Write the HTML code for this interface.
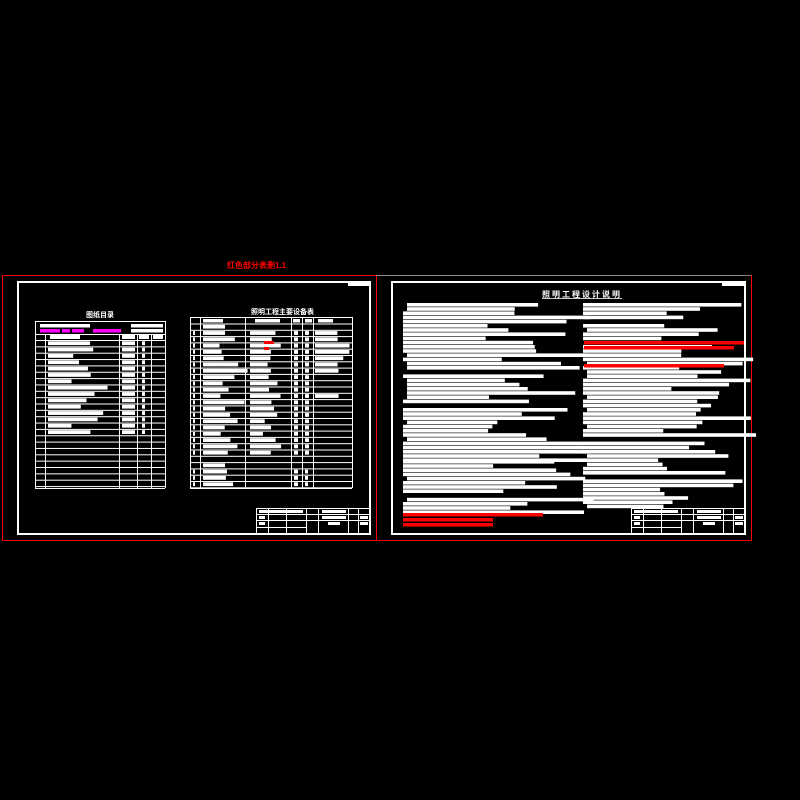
<!DOCTYPE html>
<html><head><meta charset="utf-8"><style>
html,body{margin:0;padding:0;background:#000;width:800px;height:800px;overflow:hidden}
svg{display:block}
text{font-family:"Liberation Sans","Noto Sans CJK SC",sans-serif;font-weight:bold}
</style></head><body>
<svg id="s" width="800" height="800" viewBox="0 0 800 800" xmlns="http://www.w3.org/2000/svg">
<rect width="800" height="800" fill="#000"/>
<text x="227" y="268" font-size="8" fill="#f00">红色部分表删1.1</text>
<rect x="2.5" y="275.5" width="374" height="265" fill="none" stroke="#f00" stroke-width="1"/>
<rect x="376.5" y="275.5" width="375" height="265" fill="none" stroke="#f00" stroke-width="1"/>
<line x1="376" y1="275.5" x2="751" y2="275.5" stroke="#888" stroke-width="1"/>
<rect x="18" y="282" width="352" height="252" fill="none" stroke="#fff" stroke-width="2"/>
<rect x="392" y="282" width="353" height="252" fill="none" stroke="#fff" stroke-width="2"/>
<rect x="348" y="283" width="22" height="3" fill="#fff"/>
<rect x="722" y="283" width="22" height="3" fill="#fff"/>
<text x="86" y="317" font-size="7" fill="#fff">图纸目录</text>
<text x="251" y="314" font-size="7" fill="#fff">照明工程主要设备表</text>
<text x="542" y="297" font-size="8" fill="#fff" letter-spacing="2" text-decoration="underline">照明工程设计说明</text>
<g id="g"></g>
</svg>
<script>
var g=document.getElementById('g'),NS='http://www.w3.org/2000/svg';
function R(x,y,w,h,c){var r=document.createElementNS(NS,'rect');r.setAttribute('x',x);r.setAttribute('y',y);r.setAttribute('width',w);r.setAttribute('height',h);r.setAttribute('fill',c||'#fff');g.appendChild(r);}
function L(x1,y1,x2,y2){R(Math.min(x1,x2),Math.min(y1,y2),Math.max(1,Math.abs(x2-x1)),Math.max(1,Math.abs(y2-y1)));}
var seed=7;function rnd(){seed=(seed*9301+49297)%233280;return seed/233280;}
var x0=35,x1=165,y0=321,y1=488;
L(x0,y0,x1,y0);L(x0,y1,x1,y1+1);L(x0,y0,x0+1,y1);L(x1,y0,x1+1,y1);
var ys=[];for(var y=340;y<=488;y+=6.35)ys.push(y);
ys.forEach(function(y){L(x0,y,x1,y+1);});
[45,119,137,151].forEach(function(x){L(x,334,x+1,y1);});
L(x0,334,x1,335);
R(40,324,50,3.5);R(131,324,32,3.5);R(40,329,20,3.5,'#f0f');R(62,329,8,3.5,'#f0f');R(72,329,12,3.5,'#f0f');R(93,329,28,3.5,'#f0f');R(131,329,32,3.5);
R(50,335,30,4);R(122,335,13,4);R(139,335,10,4);R(153,335,10,4);
for(var i=0;i<ys.length-1;i++){var y=ys[i]+1.3;if(i<15){R(48,y,20+rnd()*45,3.8);R(122,y,13,3.8);R(142,y,3,3.8);}}
x0=190;x1=352;y0=317;y1=488;
L(x0,y0,x1,y0);L(x0,y1,x1,y1+1);L(x0,y0,x0+1,y1);L(x1,y0,x1+1,y1);
ys=[];for(var y=323.5;y<=488;y+=6.3)ys.push(y);
ys.forEach(function(y){L(x0,y,x1,y+1);});
[200,245,291,302,313].forEach(function(x){L(x,y0,x+1,y1);});
R(203,319,20,3.5);R(255,319,25,3.5);R(293,319,7,3.5);R(305,319,7,3.5);R(318,319,15,3.5);
for(var i=0;i<ys.length-1;i++){var y=ys[i]+1.3;
 if(i==0||i==22){R(203,y,22,3.8);continue;}
 if(i==21||i>=26)continue;
 R(193,y,2,3.8);
 if(i<23){R(203,y,15+rnd()*30,3.8);R(250,y,12+rnd()*20,3.8);R(294,y,4,3.8);R(305,y,4,3.8);}else{R(203,y,15+rnd()*18,3.8);R(294,y,4,3.8);R(305,y,3,3.8);}
 if(i<8||i==11)R(315,y,20+rnd()*15,3.8);}
R(264,341,10,3,'#f00');R(264,347,5,3,'#f00');
function TB(x){L(x,508,x+114,509);L(x,508,x+1,534);L(x,514,x+114,515);L(x,520,x+114,521);L(x,527,x+50,528);
[x+12,x+30,x+50,x+62,x+92,x+102].forEach(function(a){L(a,508,a+1,534);});
R(x+3,510,44,3);R(x+66,510,24,3);R(x+66,516,24,3);R(x+72,522,12,3);R(x+3,516,6,3);R(x+3,522,6,3);R(x+104,516,8,3);R(x+104,522,8,3);}
TB(256);TB(631);
function lines(xa,xb,ya,yb,sp){for(var y=ya;y<yb;y+=sp){var w=(xb-xa)*(0.45+rnd()*0.6);if(rnd()<0.08)continue;R(xa+(rnd()<0.3?4:0),y,w,3.6);}}
lines(403,585,303,460,4.2);
lines(403,585,460,512,4.2);
lines(583,750,303,505,4.2);
R(584,341,160,3.5,'#f00');R(584,346,150,3.5,'#f00');R(584,364,140,3.5,'#f00');
R(403,513,140,3.5,'#f00');R(403,518,90,3.5,'#f00');R(403,523,90,3.5,'#f00');
</script>
</body></html>
